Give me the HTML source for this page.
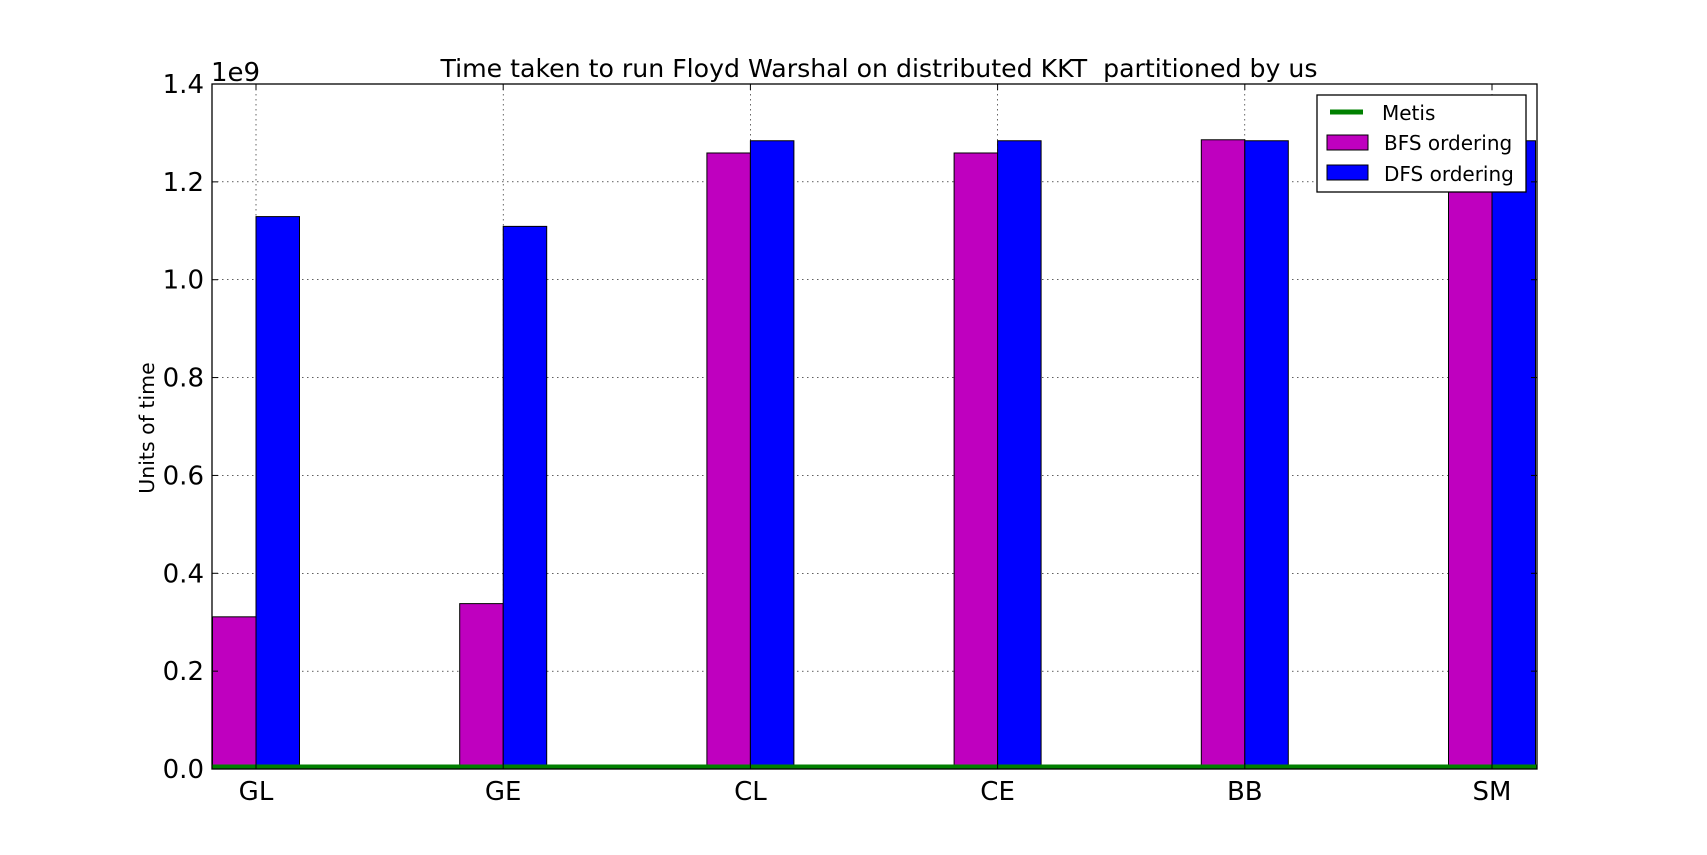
<!DOCTYPE html>
<html><head><meta charset="utf-8"><style>
html,body{margin:0;padding:0;background:#fff;}
svg{display:block;font-family:"DejaVu Sans","Liberation Sans",sans-serif;}
</style></head><body>
<svg id="chart" width="1707" height="855">
<text x="879" y="77" text-anchor="middle" font-size="25.2" style="white-space:pre">Time taken to run Floyd Warshal on distributed KKT&#160; partitioned by us</text>
<text x="154" y="428" transform="rotate(-90 154 428)" text-anchor="middle" font-size="20.5">Units of time</text>
<text x="211" y="81" font-size="26">1e9</text>
<g id="grid"></g><g id="bars"></g><g id="ticks"></g>
<rect x="212" y="84" width="1325" height="685" fill="none" stroke="#000" stroke-width="1.3"/>
<g>
<rect x="1317" y="95" width="209" height="97" fill="#fff" stroke="#000" stroke-width="1.3"/>
<line x1="1330" y1="112" x2="1363" y2="112" stroke="#008000" stroke-width="5"/>
<text x="1382" y="120" font-size="20">Metis</text>
<rect x="1327" y="135" width="41" height="15" fill="#bf00bf" stroke="#000"/>
<text x="1384" y="150" font-size="20">BFS ordering</text>
<rect x="1327" y="165" width="41" height="15" fill="#0000ff" stroke="#000"/>
<text x="1384" y="181" font-size="20">DFS ordering</text>
</g>
</svg>
<script>
const categories = ["GL","GE","CL","CE","BB","SM"];
const bfsValues = [0.311,0.338,1.259,1.259,1.286,1.286];
const dfsValues = [1.129,1.109,1.284,1.284,1.284,1.284];
const metisValues = [0.005,0.005,0.005,0.005,0.005,0.005];
const yTicks = [0.0,0.2,0.4,0.6,0.8,1.0,1.2,1.4];
const yTickLabels = ["0.0","0.2","0.4","0.6","0.8","1.0","1.2","1.4"];

const NS="http://www.w3.org/2000/svg";
const L=212,R=1537,T=84,B=769,yMax=1.4;
const bw=43.5;
function y(v){return B-(v/yMax)*(B-T);}
function x(i){return 256+i*(1492-256)/(categories.length-1);}
function mk(tag,attrs,parent){const e=document.createElementNS(NS,tag);for(const k in attrs)e.setAttribute(k,attrs[k]);parent.appendChild(e);return e;}
const grid=document.getElementById('grid'),bars=document.getElementById('bars'),ticks=document.getElementById('ticks');
yTicks.forEach((v,i)=>{
  const g=mk('line',{x1:L,x2:R,y1:y(v),y2:y(v),stroke:'#000','stroke-width':0.6,'stroke-dasharray':'1.5,3.5'},grid);
  
  
  mk('line',{x1:L,x2:L+6,y1:y(v),y2:y(v),stroke:'#000'},ticks);
  mk('line',{x1:R,x2:R-6,y1:y(v),y2:y(v),stroke:'#000'},ticks);
  const t=mk('text',{x:L-8,y:y(v)+9,'text-anchor':'end','font-size':26},ticks);
  t.textContent=yTickLabels[i];
  
  
});
categories.forEach((c,i)=>{
  const g=mk('line',{x1:x(i),x2:x(i),y1:T,y2:B,stroke:'#000','stroke-width':0.6,'stroke-dasharray':'1.5,3.5'},grid);
  
  
  const b1=mk('rect',{x:x(i)-bw,y:y(bfsValues[i]),width:bw,height:B-y(bfsValues[i]),fill:'#bf00bf',stroke:'#000','stroke-width':1},bars);
  
  
  const b2=mk('rect',{x:x(i),y:y(dfsValues[i]),width:bw,height:B-y(dfsValues[i]),fill:'#0000ff',stroke:'#000','stroke-width':1},bars);
  
  
  mk('line',{x1:x(i),x2:x(i),y1:B,y2:B-6,stroke:'#000'},ticks);
  mk('line',{x1:x(i),x2:x(i),y1:T,y2:T+6,stroke:'#000'},ticks);
  const t=mk('text',{x:x(i),y:B+31,'text-anchor':'middle','font-size':26},ticks);
  t.textContent=c;
  
  
});
let pts=metisValues.map((v,i)=>x(i)+','+y(v));
pts.unshift(L+','+y(metisValues[0]));pts.push(R+','+y(metisValues[metisValues.length-1]));
const ml=mk('polyline',{points:pts.join(' '),fill:'none',stroke:'#008000','stroke-width':4},bars);


</script>
</body></html>
